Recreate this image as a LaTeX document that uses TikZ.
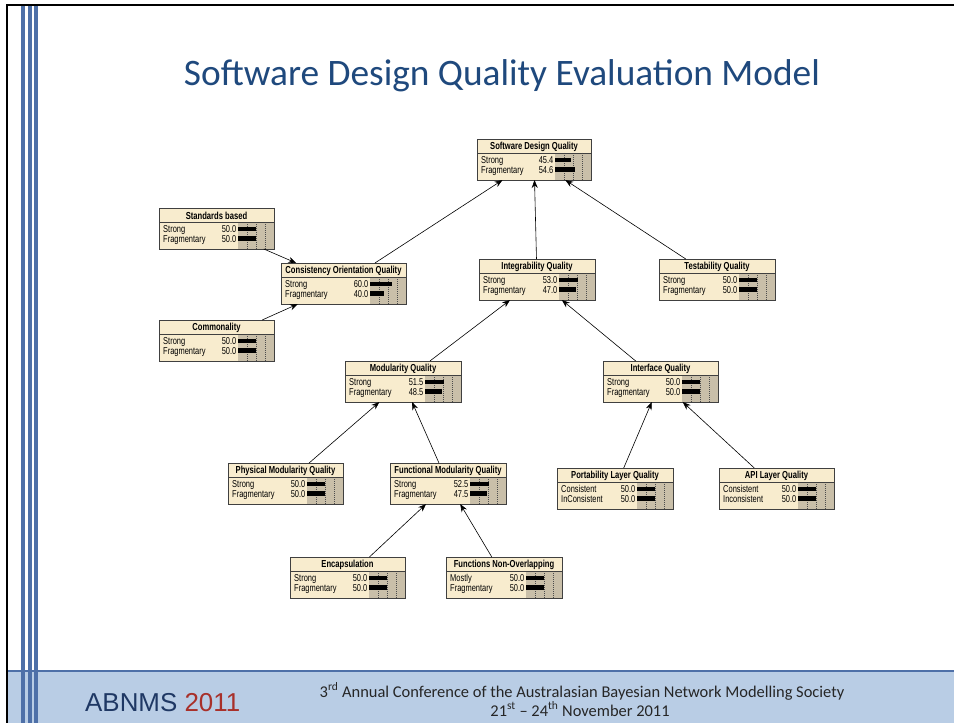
\documentclass[tikz,border=0pt]{standalone}
\usepackage{fontspec}
\setmainfont{Carlito}
\newfontfamily\arialfont{Liberation Sans}
\newfontfamily\netfont[FakeStretch=0.75]{Liberation Sans}
\usetikzlibrary{arrows.meta}
\definecolor{titleblue}{RGB}{31,73,125}
\definecolor{footblue}{RGB}{185,205,229}
\definecolor{stripeblue}{RGB}{78,112,168}
\definecolor{abnmsblue}{RGB}{31,56,100}
\definecolor{abnmsred}{RGB}{168,48,42}
\definecolor{nodecream}{RGB}{248,236,206}
\definecolor{bargrey}{RGB}{201,191,169}

% belief box: name, x, y, width, title, state 1, value 1, state 2, value 2
\newcommand{\belief}[9]{%
  \node[beliefbox, minimum width=#4bp, anchor=north west] (#1) at (#2,#3) {};
  \fill[bargrey] ([shift={(-36bp,-14bp)}]#1.north east) rectangle (#1.south east);
  \foreach \f in {9,18,27}
    \draw[gridline] ([shift={(-\f bp,-14bp)}]#1.north east) -- ([xshift=-\f bp]#1.south east);
  \pgfmathsetmacro\barA{#7*0.36}
  \pgfmathsetmacro\barB{#9*0.36}
  \fill ([shift={(-36bp,-18.5bp)}]#1.north east) rectangle ([shift={(-36bp+\barA bp,-23bp)}]#1.north east);
  \fill ([shift={(-36bp,-28bp)}]#1.north east) rectangle ([shift={(-36bp+\barB bp,-32.5bp)}]#1.north east);
  \draw[boxline] ([yshift=-14bp]#1.north west) -- ([yshift=-14bp]#1.north east);
  \node[headtext] at ([yshift=-7.5bp]#1.north) {#5};
  \node[statetext, anchor=base west] at ([shift={(4bp,-24.5bp)}]#1.north west) {#6};
  \node[statetext, anchor=base west] at ([shift={(4bp,-34.5bp)}]#1.north west) {#8};
  \node[statetext, anchor=base east] at ([shift={(-37.5bp,-24.5bp)}]#1.north east) {#7};
  \node[statetext, anchor=base east] at ([shift={(-37.5bp,-34.5bp)}]#1.north east) {#9};
  \draw[boxline] (#1.north west) rectangle (#1.south east);
}

\begin{document}
\begin{tikzpicture}[x=1bp, y=-1bp,
    beliefbox/.style={rectangle, fill=nodecream, minimum height=41bp, inner sep=0pt, outer sep=0pt},
    boxline/.style={draw=black!75, line width=0.8bp},
    gridline/.style={black!70, line width=0.5bp, dash pattern=on 1bp off 1bp},
    headtext/.style={inner sep=0pt, font=\netfont\bfseries\fontsize{10.2}{11}\selectfont},
    statetext/.style={inner sep=0pt, font=\netfont\fontsize{10}{10}\selectfont},
    link/.style={-{Stealth[length=8bp, width=6bp]}, line width=0.6bp, black}]
  \useasboundingbox (0,0) rectangle (954,723);
  \fill[white] (0,0) rectangle (954,723);

  % slide frame and footer
  \fill[footblue] (8,671) rectangle (954,723);
  \draw[stripeblue, line width=2bp] (8,671) -- (954,671);
  \foreach \sx in {22.5,29.5,35.5}
    \draw[stripeblue, line width=4bp] (\sx,6) -- (\sx,723);
  \draw[black, line width=2bp] (7,723) -- (7,5) -- (954,5);

  \node[anchor=base, text=titleblue, font=\fontsize{37.5}{40}\selectfont] (title) at (502,86)
    {Software Design Quality Evaluation Model};
  \node[anchor=base west, inner sep=0pt, font=\arialfont\fontsize{26}{27}\selectfont] (abnms) at (85,711)
    {\textcolor{abnmsblue}{ABNMS} \textcolor{abnmsred}{2011}};
  \node[anchor=base, inner sep=0pt, text=black!85, font=\fontsize{16.5}{18}\selectfont] (conf) at (582,697)
    {3\textsuperscript{rd} Annual Conference of the Australasian Bayesian Network Modelling Society};
  \node[anchor=base, inner sep=0pt, text=black!85, font=\fontsize{16.5}{18}\selectfont] (dates) at (580,716)
    {21\textsuperscript{st} -- 24\textsuperscript{th} November 2011};

  % network
  \belief{sdq}{477}{139}{114}{Software Design Quality}{Strong}{45.4}{Fragmentary}{54.6}
  \belief{stdbased}{159}{208}{115}{Standards based}{Strong}{50.0}{Fragmentary}{50.0}
  \belief{consist}{281}{263}{125}{Consistency Orientation Quality}{Strong}{60.0}{Fragmentary}{40.0}
  \belief{common}{159}{320}{115}{Commonality}{Strong}{50.0}{Fragmentary}{50.0}
  \belief{integ}{479}{259}{116}{Integrability Quality}{Strong}{53.0}{Fragmentary}{47.0}
  \belief{testab}{659}{259}{116}{Testability Quality}{Strong}{50.0}{Fragmentary}{50.0}
  \belief{modul}{345}{361}{116}{Modularity Quality}{Strong}{51.5}{Fragmentary}{48.5}
  \belief{iface}{603}{361}{115}{Interface Quality}{Strong}{50.0}{Fragmentary}{50.0}
  \belief{physmod}{228}{463}{115}{Physical Modularity Quality}{Strong}{50.0}{Fragmentary}{50.0}
  \belief{funcmod}{390}{463}{116}{Functional Modularity Quality}{Strong}{52.5}{Fragmentary}{47.5}
  \belief{portab}{557}{468}{116}{Portability Layer Quality}{Consistent}{50.0}{InConsistent}{50.0}
  \belief{apilayer}{719}{468}{115}{API Layer Quality}{Consistent}{50.0}{Inconsistent}{50.0}
  \belief{encap}{290}{557}{115}{Encapsulation}{Strong}{50.0}{Fragmentary}{50.0}
  \belief{funcnov}{446}{557}{116}{Functions Non-Overlapping}{Mostly}{50.0}{Fragmentary}{50.0}

  \draw[link] (consist) -- (sdq);
  \draw[link] (integ) -- (sdq);
  \draw[link] (testab) -- (sdq);
  \draw[link] (stdbased) -- (consist);
  \draw[link] (common) -- (consist);
  \draw[link] (modul) -- (integ);
  \draw[link] (iface) -- (integ);
  \draw[link] (physmod) -- (modul);
  \draw[link] (funcmod) -- (modul);
  \draw[link] (portab) -- (iface);
  \draw[link] (apilayer) -- (iface);
  \draw[link] (encap) -- (funcmod);
  \draw[link] (funcnov) -- (funcmod);
\end{tikzpicture}
\end{document}
